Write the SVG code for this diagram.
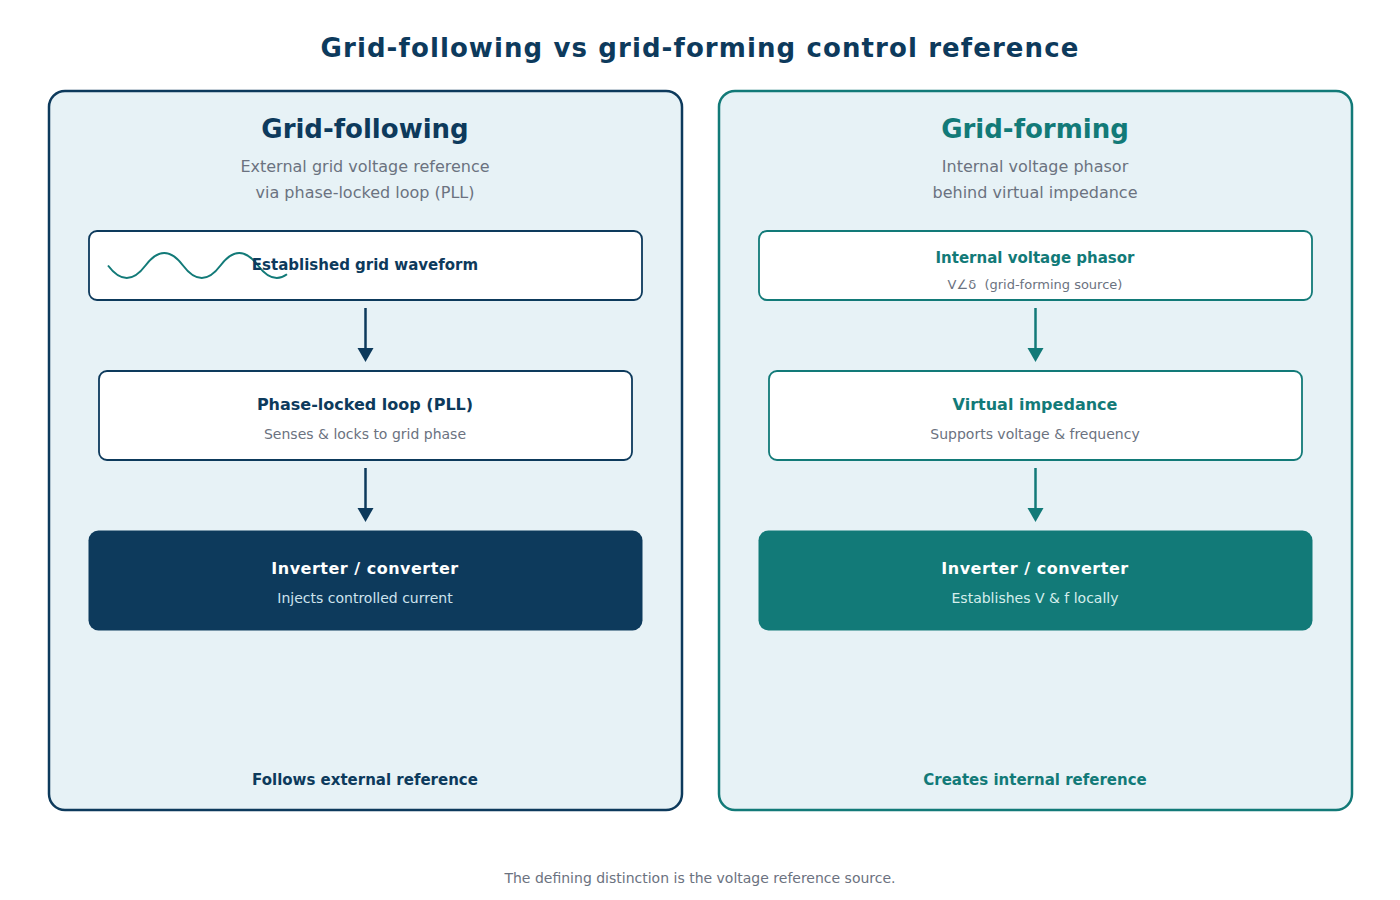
<svg xmlns="http://www.w3.org/2000/svg" width="1400" height="900" viewBox="0 0 1400 900">
<defs>
<style>
text{font-family:"DejaVu Sans","Liberation Sans",sans-serif;text-anchor:middle}
.title{font-size:26px;font-weight:bold;fill:#0d3a5c;letter-spacing:1.1px}
.ptitle{font-size:26px;font-weight:bold}
.sub{font-size:16px;fill:#6b7280}
.lbl{font-size:15px;font-weight:bold}
.lbl16{font-size:16px;font-weight:bold}
.small{font-size:14px;fill:#6b7280}
.navy{fill:#0d3a5c}
.teal{fill:#127a78}
.panel{stroke-width:2.5}
.box{fill:#ffffff;stroke-width:1.8}
</style>
</defs>
<rect width="1400" height="900" fill="#ffffff"/>
<text class="title" x="700" y="57">Grid-following vs grid-forming control reference</text>

<g id="panel-following">
<rect class="panel" x="49" y="91" width="633" height="719" rx="16" fill="#e7f2f6" stroke="#0d3a5c"/>
<text class="ptitle navy" x="365" y="138">Grid-following</text>
<text class="sub" x="365" y="172">External grid voltage reference</text>
<text class="sub" x="365" y="198">via phase-locked loop (PLL)</text>
<text class="lbl navy" x="365" y="785">Follows external reference</text>
</g>
<g id="node-waveform">
<rect class="box" x="89" y="231" width="553" height="69" rx="8" stroke="#0d3a5c"/>
<path d="M108,265.5 Q126.75,290.5 145.5,265.5 T183,265.5 T220.5,265.5 T258,265.5 Q272.5,284.8 287,274.3" fill="none" stroke="#127a78" stroke-width="2"/>
<text class="lbl navy" x="365" y="270">Established grid waveform</text>
</g>
<g id="node-pll">
<rect class="box" x="99" y="371" width="533" height="89" rx="8" stroke="#0d3a5c"/>
<text class="lbl16 navy" x="365" y="410">Phase-locked loop (PLL)</text>
<text class="small" x="365" y="439">Senses &amp; locks to grid phase</text>
</g>
<g id="node-inverter-following">
<rect x="88.5" y="530.5" width="554" height="100" rx="10" fill="#0d3a5c"/>
<text class="lbl16" x="365" y="574" style="fill:#ffffff;letter-spacing:0.5px">Inverter / converter</text>
<text class="small" x="365" y="603" style="fill:#cde3ee">Injects controlled current</text>
</g>

<g id="panel-forming">
<rect class="panel" x="719" y="91" width="633" height="719" rx="16" fill="#e7f2f6" stroke="#127a78"/>
<text class="ptitle teal" x="1035" y="138">Grid-forming</text>
<text class="sub" x="1035" y="172">Internal voltage phasor</text>
<text class="sub" x="1035" y="198">behind virtual impedance</text>
<text class="lbl teal" x="1035" y="785">Creates internal reference</text>
</g>
<g id="node-phasor">
<rect class="box" x="759" y="231" width="553" height="69" rx="8" stroke="#127a78"/>
<text class="lbl teal" x="1035" y="263">Internal voltage phasor</text>
<text class="small" x="1035" y="289" style="font-size:13px" xml:space="preserve">V∠δ  (grid-forming source)</text>
</g>
<g id="node-impedance">
<rect class="box" x="769" y="371" width="533" height="89" rx="8" stroke="#127a78"/>
<text class="lbl16 teal" x="1035" y="410">Virtual impedance</text>
<text class="small" x="1035" y="439">Supports voltage &amp; frequency</text>
</g>
<g id="node-inverter-forming">
<rect x="758.5" y="530.5" width="554" height="100" rx="10" fill="#127a78"/>
<text class="lbl16" x="1035" y="574" style="fill:#ffffff;letter-spacing:0.5px">Inverter / converter</text>
<text class="small" x="1035" y="603" style="fill:#d5eeec">Establishes V &amp; f locally</text>
</g>

<g id="connectors">
<line x1="365.5" y1="308" x2="365.5" y2="350" stroke="#0d3a5c" stroke-width="2.5"/>
<path d="M357.5,348 L373.5,348 L365.5,362 Z" fill="#0d3a5c"/>
<line x1="365.5" y1="468" x2="365.5" y2="510" stroke="#0d3a5c" stroke-width="2.5"/>
<path d="M357.5,508 L373.5,508 L365.5,522 Z" fill="#0d3a5c"/>
<line x1="1035.5" y1="308" x2="1035.5" y2="350" stroke="#127a78" stroke-width="2.5"/>
<path d="M1027.5,348 L1043.5,348 L1035.5,362 Z" fill="#127a78"/>
<line x1="1035.5" y1="468" x2="1035.5" y2="510" stroke="#127a78" stroke-width="2.5"/>
<path d="M1027.5,508 L1043.5,508 L1035.5,522 Z" fill="#127a78"/>
</g>

<text class="small" x="700" y="883">The defining distinction is the voltage reference source.</text>
</svg>
